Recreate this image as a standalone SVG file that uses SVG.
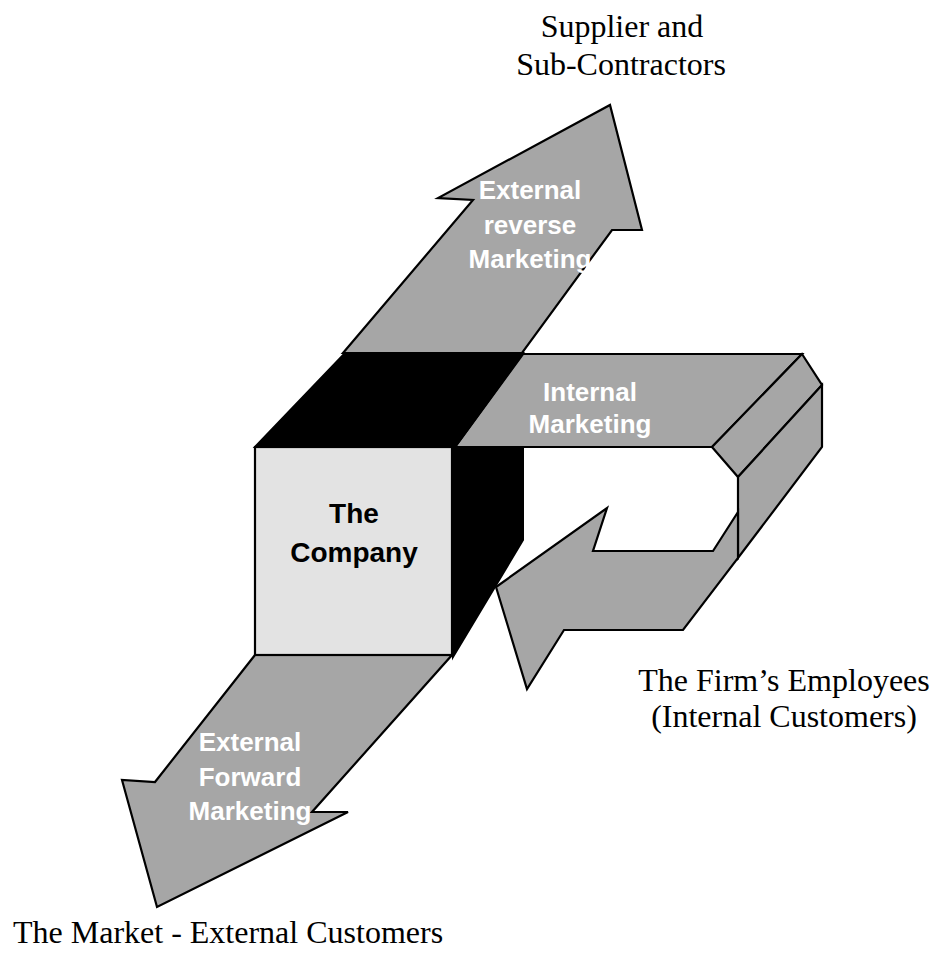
<svg xmlns="http://www.w3.org/2000/svg" width="932" height="954" viewBox="0 0 932 954">
  <style>
    .band { fill: #a6a6a6; stroke: #000; stroke-width: 2.2; stroke-linejoin: miter; }
    .dark { fill: #000; stroke: #000; stroke-width: 2; }
    .face { fill: #e3e3e3; stroke: #000; stroke-width: 2.2; }
    .thin { fill: none; stroke: #000; stroke-width: 1; }
    .flow { font-family: "Liberation Sans", Arial, sans-serif; font-weight: bold; font-size: 26px; fill: #fff; text-anchor: middle; }
    .box { font-family: "Liberation Sans", Arial, sans-serif; font-weight: bold; font-size: 28px; fill: #000; text-anchor: middle; }
    .party { font-family: "Liberation Serif", "Times New Roman", serif; font-size: 32px; fill: #000; }
  </style>

  <!-- marketing flows -->
  <g id="connectors">
    <!-- reverse marketing: up to suppliers -->
    <g id="flow-reverse">
      <polygon class="band" points="343,353 473,200 438,198 610,105 642,230 612,230 522,353"/>
      <text class="flow" x="530" y="199">External</text>
      <text class="flow" x="530" y="234">reverse</text>
      <text class="flow" x="530" y="268">Marketing</text>
    </g>

    <!-- internal marketing: folded band looping back to the company -->
    <g id="flow-internal">
      <polygon class="band" points="523,354 802,354 712,447 455,447"/>
      <polygon class="band" points="802,354 822,385 738,477 712,447"/>
      <polygon class="band" points="822,385 822,447 738,558 738,477"/>
      <polygon class="band" points="738,512 713,551 593,551 607,508 496,587 527,689 564,630 683,630 738,558"/>
      <line class="thin" x1="738" y1="477" x2="738" y2="560"/>
      <line class="thin" x1="822" y1="385" x2="738" y2="477"/>
      <text class="flow" x="590" y="401">Internal</text>
      <text class="flow" x="590" y="433">Marketing</text>
    </g>

    <!-- forward marketing: down to the market -->
    <g id="flow-forward">
      <polygon class="band" points="255,655 155,782 122,780 157,907 348,812 312,812 452,655"/>
      <text class="flow" x="250" y="751">External</text>
      <text class="flow" x="250" y="786">Forward</text>
      <text class="flow" x="250" y="820">Marketing</text>
    </g>
  </g>

  <!-- the company cube -->
  <g id="company">
    <polygon class="dark" points="345,353 523,353 455,447 255,447"/>
    <polygon class="dark" points="452,447 523,447 523,540 453,657"/>
    <rect class="face" x="255" y="447" width="197" height="208"/>
    <text class="box" x="354" y="523">The</text>
    <text class="box" x="354" y="562">Company</text>
  </g>

  <!-- parties -->
  <g id="suppliers">
    <text class="party" x="622" y="37" text-anchor="middle">Supplier and</text>
    <text class="party" x="621" y="75" text-anchor="middle">Sub-Contractors</text>
  </g>
  <g id="employees">
    <text class="party" x="784" y="691" text-anchor="middle">The Firm’s Employees</text>
    <text class="party" x="784" y="727" text-anchor="middle">(Internal Customers)</text>
  </g>
  <g id="market">
    <text class="party" x="13" y="943">The Market - External Customers</text>
  </g>
</svg>
